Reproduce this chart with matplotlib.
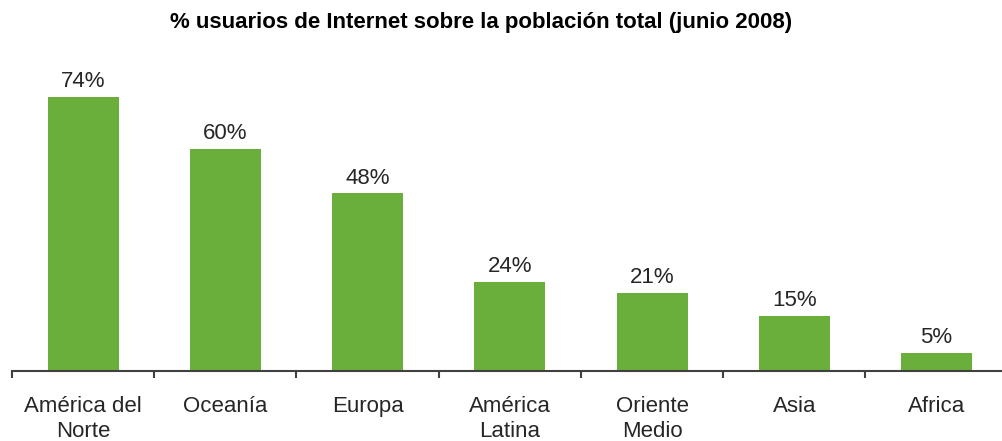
import matplotlib.pyplot as plt
import numpy as np

regions = ["América del\nNorte", "Oceanía", "Europa", "América\nLatina",
           "Oriente\nMedio", "Asia", "Africa"]
pct = [74, 60, 48, 24, 21, 15, 5]

plt.rcParams['font.family'] = ['Liberation Sans', 'DejaVu Sans']

fig = plt.figure(figsize=(10.02, 4.41), dpi=100)
ax = fig.add_axes([12 / 1002, 1 - 371 / 441, 1 - 12 / 1002, 296 / 441])

x = np.arange(len(regions))
ax.bar(x, pct, width=0.5, color='#6AAE3C')
for xi, v in zip(x, pct):
    ax.text(xi, v + 1.3, f"{v}%", ha='center', va='bottom', fontsize=16, color='#262626')

ax.set_xlim(-0.5, 6.46)
ax.set_ylim(0, 80)
ax.set_yticks([])
ax.set_xticks(x)
ax.set_xticklabels(regions, fontsize=16, color='#262626', linespacing=1.22)
ax.tick_params(axis='x', which='major', length=0, pad=18)
ax.set_xticks(np.arange(-0.5, 6.5, 1), minor=True)
ax.tick_params(axis='x', which='minor', length=5, width=1.5, color='#404040', direction='out')
for s in ['top', 'right', 'left']:
    ax.spines[s].set_visible(False)
ax.spines['bottom'].set_color('#404040')
ax.spines['bottom'].set_linewidth(1.5)

fig.text(0.48, 0.948, "% usuarios de Internet sobre la población total (junio 2008)",
         ha='center', va='center', fontsize=16, fontweight='bold',
         family=['Liberation Sans Narrow', 'Liberation Sans', 'DejaVu Sans'])

fig.savefig("out.png", dpi=100)
